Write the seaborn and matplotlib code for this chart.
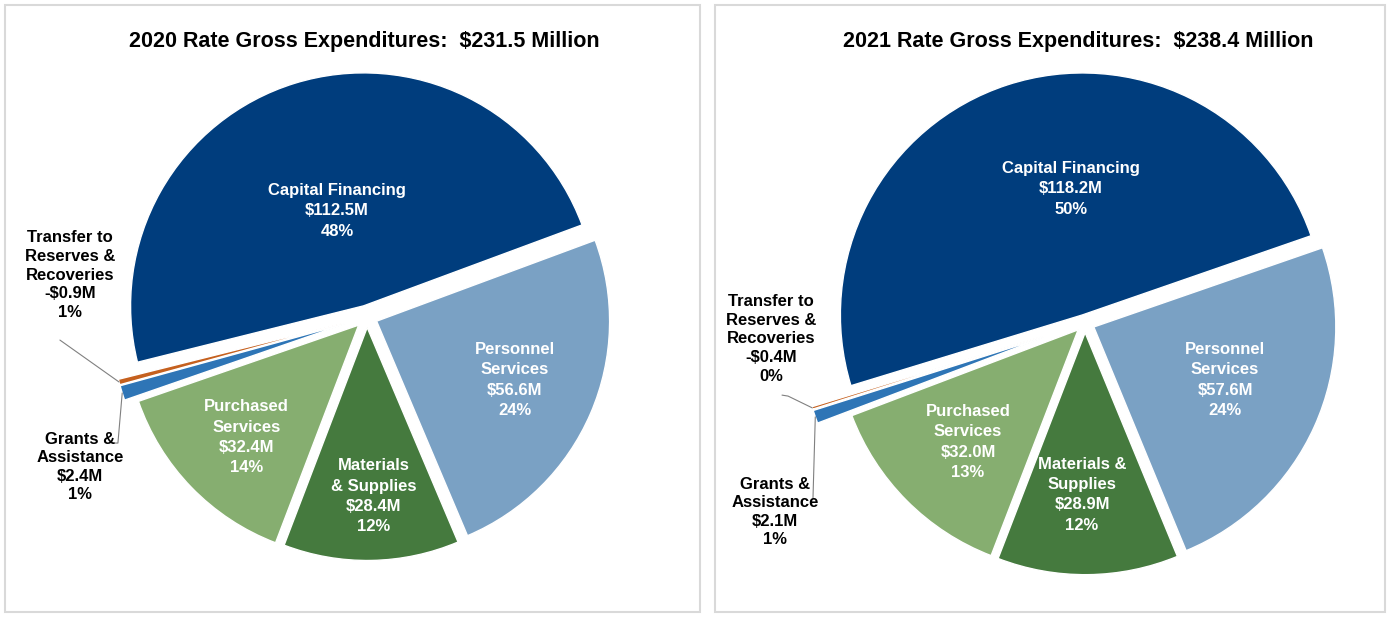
import matplotlib
matplotlib.use("Agg")
import matplotlib.pyplot as plt
import seaborn as sns
import numpy as np
from matplotlib.patches import Rectangle

# ---------------- data ----------------
categories = ["Capital Financing", "Personnel Services", "Materials & Supplies",
              "Purchased Services", "Grants & Assistance",
              "Transfer to Reserves & Recoveries"]
labels_2020 = ["Capital Financing", "Personnel\nServices", "Materials\n& Supplies",
               "Purchased\nServices", "Grants &\nAssistance",
               "Transfer to\nReserves &\nRecoveries"]
labels_2021 = ["Capital Financing", "Personnel\nServices", "Materials &\nSupplies",
               "Purchased\nServices", "Grants &\nAssistance",
               "Transfer to\nReserves &\nRecoveries"]
values_2020 = [112.5, 56.6, 28.4, 32.4, 2.4, -0.9]
values_2021 = [118.2, 57.6, 28.9, 32.0, 2.1, -0.4]
pct_2020 = [48, 24, 12, 14, 1, 1]
pct_2021 = [50, 24, 12, 13, 1, 0]
years = [2020, 2021]
totals = [231.5, 238.4]

# ---------------- style ----------------
colors = ["#003D7D", "#7AA1C4", "#457A3E", "#86AE70", "#2E75B6", "#C5601E"]

sns.set_theme(style="white")
plt.rcParams["font.family"] = ["Liberation Sans", "DejaVu Sans"]

W, H = 1391, 618
fig = plt.figure(figsize=(W / 100, H / 100), dpi=100)
fig.patch.set_facecolor("white")

# panel geometry in pixels: (x0, x1, y0, y1), pie centre, radius px
panels = [
    dict(box=(5, 700, 5, 612), center=(367, 317), rad=233, start=194,
         explode=[0.05, 0.045, 0.045, 0.05, 0.10, 0.10],
         in_pos=[(105.8, 0.473), (-23.1, 0.69), (-87.8, 0.77), (-135, 0.73)],
         title_x=364,
         tr_label=(-1.275, 0.180), gr_label=(-1.232, -0.644),
         tr_line=[(-1.318, -0.099)], gr_line=[(-1.069, -0.541), (-1.090, -0.541)]),
    dict(box=(715, 1385, 5, 612), center=(1085, 323), rad=242, start=197,
         explode=[0.035, 0.04, 0.04, 0.04, 0.18, 0.18],
         in_pos=[(96, 0.557), (-22.2, 0.625), (-91, 0.71), (-134.5, 0.69)],
         title_x=1078,
         tr_label=(-1.298, -0.066), gr_label=(-1.281, -0.781),
         tr_line=[(-1.252, -0.298), (-1.227, -0.302)], gr_line=[(-1.124, -0.723)]),
]

datasets = [(values_2020, pct_2020, labels_2020), (values_2021, pct_2021, labels_2021)]


def fmt(v):
    return f"-${abs(v):.1f}M" if v < 0 else f"${v:.1f}M"


def outer(w):
    th = np.deg2rad((w.theta1 + w.theta2) / 2)
    wx, wy = w.center
    return wx + w.r * np.cos(th), wy + w.r * np.sin(th)


for p, (vals, pcts, labs), year, total in zip(panels, datasets, years, totals):
    x0, x1, y0, y1 = p["box"]
    cx, cy = p["center"]
    r = p["rad"]
    # panel border
    fig.patches.append(Rectangle((x0 / W, 1 - y1 / H), (x1 - x0) / W, (y1 - y0) / H,
                                 transform=fig.transFigure, fill=False,
                                 edgecolor="#D9D9D9", linewidth=1.5))
    ax = fig.add_axes([x0 / W, 1 - y1 / H, (x1 - x0) / W, (y1 - y0) / H])
    wedges, _ = ax.pie(np.abs(vals), colors=colors, startangle=p["start"],
                       counterclock=False, explode=p["explode"], radius=1,
                       wedgeprops=dict(edgecolor="white", linewidth=1.0))
    ax.set_xlim((x0 - cx) / r, (x1 - cx) / r)
    ax.set_ylim((cy - y1) / r, (cy - y0) / r)
    ax.set_aspect("equal", adjustable="box")
    ax.axis("off")

    # inside labels
    for i, (ang, rr) in enumerate(p["in_pos"]):
        t = np.deg2rad(ang)
        ax.text(rr * np.cos(t), rr * np.sin(t),
                f"{labs[i]}\n{fmt(vals[i])}\n{pcts[i]}%",
                ha="center", va="center", color="white", fontsize=12,
                fontweight="bold", linespacing=1.45)

    # outside labels with leader lines
    tx, ty = outer(wedges[5])
    pts = p["tr_line"] + [(tx, ty)]
    ax.plot([q[0] for q in pts], [q[1] for q in pts], color="#808080", lw=0.8)
    gx, gy = outer(wedges[4])
    pts = [(gx, gy)] + p["gr_line"]
    ax.plot([q[0] for q in pts], [q[1] for q in pts], color="#808080", lw=0.8)

    ax.text(*p["tr_label"], f"{labs[5]}\n{fmt(vals[5])}\n{pcts[5]}%",
            ha="center", va="center", color="black", fontsize=12,
            fontweight="bold", linespacing=1.3)
    ax.text(*p["gr_label"], f"{labs[4]}\n{fmt(vals[4])}\n{pcts[4]}%",
            ha="center", va="center", color="black", fontsize=12,
            fontweight="bold", linespacing=1.3)

    fig.text(p["title_x"] / W, 1 - 42 / H,
             f"{year} Rate Gross Expenditures:  ${total:.1f} Million",
             ha="center", va="center", fontsize=15.5, fontweight="bold",
             family=["Liberation Sans Narrow", "Liberation Sans", "DejaVu Sans"],
             color="black")

fig.savefig("out.png", dpi=100, facecolor="white")
